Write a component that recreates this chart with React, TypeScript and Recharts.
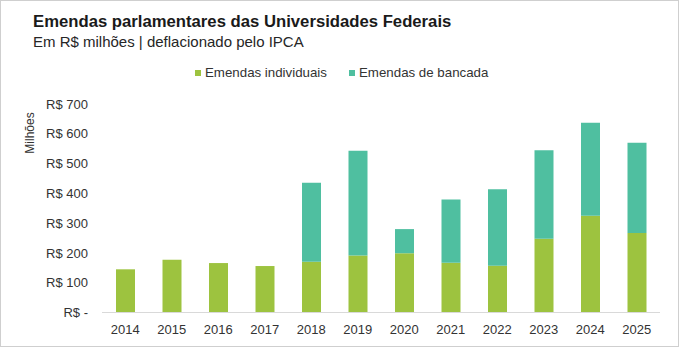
import { BarChart, Bar, XAxis, YAxis } from 'recharts';

const years = ['2014', '2015', '2016', '2017', '2018', '2019', '2020', '2021', '2022', '2023', '2024', '2025'];
const individuais = [145, 177, 166, 156, 170, 191, 199, 167, 157, 248, 325, 267];
const bancada = [0, 0, 0, 0, 266, 352, 81, 212, 257, 297, 312, 303];
const yTicks = [0, 100, 200, 300, 400, 500, 600, 700];

const GREEN = '#9dc33f';
const TEAL = '#4fbfa0';
const FONT = '"Liberation Sans", Arial, sans-serif';

const data = years.map((ano, i) => ({ ano, individuais: individuais[i], bancada: bancada[i] }));

const fmtReais = (v: number) => (v === 0 ? 'R$ -' : `R$ ${v}`);

function LegendItem({ color, label, left }: { color: string; label: string; left: number }) {
  return (
    <div style={{ position: 'absolute', left, top: 65, display: 'flex', alignItems: 'center', fontSize: 13.3, color: '#333' }}>
      <span style={{ width: 6, height: 6, background: color, marginRight: 4, display: 'inline-block' }} />
      {label}
    </div>
  );
}

// rotated unit label, sits left of the tick labels near the top
const UnitLabel = () => (
  <text x={30} y={133} transform="rotate(-90, 30, 133)" textAnchor="middle" dominantBaseline="central" fill="#333" fontSize={12} fontFamily={FONT}>
    Milhões
  </text>
);

export default function App() {
  return (
    <div style={{ position: 'absolute', left: 0, top: 0, width: 679, height: 347, background: '#fff', fontFamily: FONT }}>
      <div style={{ position: 'absolute', left: 0, top: 0, width: 677, height: 345, border: '1px solid #cfcfcf' }} />
      <div style={{ position: 'absolute', left: 33, top: 12, fontSize: 16.7, fontWeight: 700, color: '#1a1a1a', whiteSpace: 'nowrap' }}>
        Emendas parlamentares das Universidades Federais
      </div>
      <div style={{ position: 'absolute', left: 33, top: 33, fontSize: 15, color: '#262626', whiteSpace: 'nowrap' }}>
        Em R$ milhões | deflacionado pelo IPCA
      </div>
      <LegendItem color={GREEN} label="Emendas individuais" left={195} />
      <LegendItem color={TEAL} label="Emendas de bancada" left={349} />
      <div style={{ position: 'absolute', left: 0, top: 0 }}>
        <BarChart width={679} height={347} data={data} margin={{ top: 104, right: 19, bottom: 4.5, left: 0 }}>
          <XAxis
            dataKey="ano"
            height={30}
            tickLine={false}
            axisLine={{ stroke: '#d9d9d9' }}
            tick={{ fill: '#333', fontSize: 13, fontFamily: FONT }}
            tickMargin={6}
            interval={0}
          />
          <YAxis
            width={102}
            domain={[0, 700]}
            ticks={yTicks}
            tickFormatter={fmtReais}
            axisLine={false}
            tickLine={false}
            tickMargin={8}
            tick={{ fill: '#333', fontSize: 13, fontFamily: FONT }}
            label={{ content: UnitLabel }}
          />
          <Bar dataKey="individuais" stackId="a" fill={GREEN} barSize={19} isAnimationActive={false} />
          <Bar dataKey="bancada" stackId="a" fill={TEAL} barSize={19} isAnimationActive={false} />
        </BarChart>
      </div>
    </div>
  );
}
